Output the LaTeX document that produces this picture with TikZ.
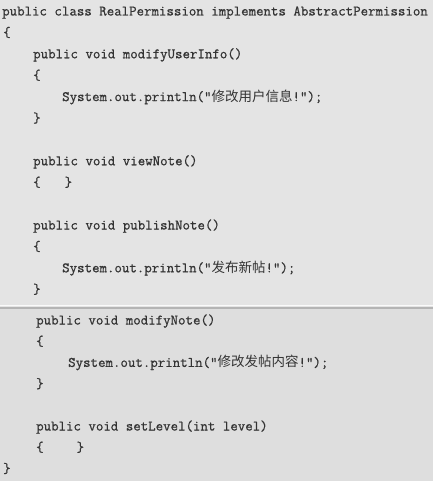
\documentclass[tikz,border=0pt]{standalone}
\usepackage{fontspec}
\newfontfamily\cjk{Noto Sans CJK SC}
\newfontfamily\codett[FakeBold=0.7]{Latin Modern Mono}
\newcommand{\codefont}{\fontsize{14.5}{16}\selectfont\codett}
\newcommand{\hanzi}[1]{{\fontsize{13.5}{16}\selectfont\cjk #1}}
\definecolor{pagebg}{HTML}{E4E4E4}
\definecolor{pagebgb}{HTML}{DEDEDE}
\definecolor{ink}{HTML}{333333}
\definecolor{seam}{HTML}{B4B4B4}

\begin{document}
\begin{tikzpicture}[x=1pt,y=-1pt,
  codeline/.style={anchor=base west,inner sep=0pt,text=ink,font=\codefont}]
\useasboundingbox (0,0) rectangle (433,481);
\fill[pagebg] (0,0) rectangle (433,307);
\fill[pagebgb] (0,307) rectangle (433,481);
\draw[white!80!pagebg,line width=1.5pt] (0,305.5) -- (433,305.5);
\draw[seam,line width=1.2pt] (0,308) -- (433,308);  %page seam
% upper half
\node[codeline] (cls) at (2,15.5) {public class RealPermission implements AbstractPermission};
\node[codeline] (clsopen) at (3,36.9) {\{};
\node[codeline] (moduser) at (33,58.3) {public void modifyUserInfo()};
\node[codeline] (moduseropen) at (33,79.7) {\{};
\node[codeline] (moduserbody) at (62,101.1) {System.out.println("\hanzi{修改用户信息}!");};
\node[codeline] (moduserclose) at (33,122.5) {\}};
\node[codeline] (view) at (33,165.3) {public void viewNote()};
\node[codeline] (viewbody) at (33,186.7) {\{\hspace{24pt}\}};
\node[codeline] (publish) at (33,229.5) {public void publishNote()};
\node[codeline] (publishopen) at (33,250.9) {\{};
\node[codeline] (publishbody) at (62,272.3) {System.out.println("\hanzi{发布新帖}!");};
\node[codeline] (publishclose) at (33,293.7) {\}};
% lower half
\node[codeline] (modnote) at (36,324.5) {public void modifyNote()};
\node[codeline] (modnoteopen) at (36,345.7) {\{};
\node[codeline] (modnotebody) at (68,366.9) {System.out.println("\hanzi{修改发帖内容}!");};
\node[codeline] (modnoteclose) at (36,388.1) {\}};
\node[codeline] (level) at (36,430.5) {public void setLevel(int level)};
\node[codeline] (levelbody) at (36,451.7) {\{\hspace{33pt}\}};
\node[codeline] (clsclose) at (3,472.9) {\}};
\end{tikzpicture}
\end{document}
